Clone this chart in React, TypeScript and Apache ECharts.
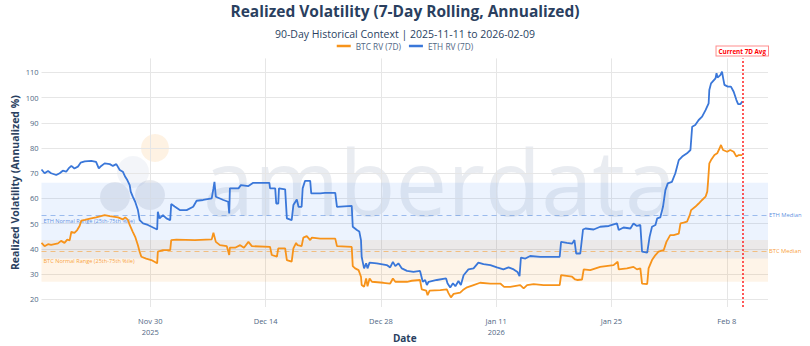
import React, { useEffect, useRef } from 'react';
import * as echarts from 'echarts';

// ---- data ----
const btcSeries: [string, number][] = [
  ['2025-11-16 19:00', 42.4], ['2025-11-17 04:00', 41.1], ['2025-11-17 14:00', 41.9], ['2025-11-17 23:00', 41.6],
  ['2025-11-18 09:00', 41.9], ['2025-11-18 19:00', 42.2], ['2025-11-19 04:00', 43.2], ['2025-11-19 14:00', 42.4],
  ['2025-11-19 22:00', 43.7], ['2025-11-20 05:00', 43.4], ['2025-11-20 10:00', 46.8], ['2025-11-20 19:00', 46.4],
  ['2025-11-21 03:00', 47.5], ['2025-11-21 10:00', 49.1], ['2025-11-21 15:00', 51.2], ['2025-11-22 01:00', 51.5],
  ['2025-11-22 20:00', 52.1], ['2025-11-23 10:00', 52.5], ['2025-11-24 11:00', 53.4], ['2025-11-25 02:00', 53],
  ['2025-11-26 02:00', 52.5], ['2025-11-26 16:00', 51.7], ['2025-11-26 23:00', 52.5], ['2025-11-27 07:00', 51.5],
  ['2025-11-27 12:00', 49.5], ['2025-11-27 21:00', 46.8], ['2025-11-28 04:00', 44.8], ['2025-11-28 12:00', 41.5],
  ['2025-11-28 17:00', 38.9], ['2025-11-28 22:00', 36.9], ['2025-11-29 12:00', 36.2], ['2025-11-30 03:00', 35.6],
  ['2025-11-30 20:00', 34.3], ['2025-11-30 22:00', 38.9], ['2025-12-01 13:00', 39.5], ['2025-12-02 10:00', 39.5],
  ['2025-12-02 13:00', 43.5], ['2025-12-03 04:00', 43.7], ['2025-12-05 10:00', 43.5], ['2025-12-07 11:00', 43.8],
  ['2025-12-07 16:00', 46.4], ['2025-12-07 23:00', 42.8], ['2025-12-08 11:00', 41.5], ['2025-12-09 07:00', 41.1],
  ['2025-12-09 14:00', 37.6], ['2025-12-09 16:00', 40.5], ['2025-12-10 07:00', 40.5], ['2025-12-10 22:00', 41.5],
  ['2025-12-11 09:00', 40.5], ['2025-12-11 22:00', 42.8], ['2025-12-12 08:00', 41.1], ['2025-12-14 13:00', 40.8],
  ['2025-12-14 18:00', 37.6], ['2025-12-15 09:00', 37], ['2025-12-15 13:00', 40.2], ['2025-12-16 09:00', 40.2],
  ['2025-12-16 14:00', 35.6], ['2025-12-17 04:00', 35], ['2025-12-17 09:00', 40.2], ['2025-12-17 17:00', 42.4],
  ['2025-12-17 21:00', 41.5], ['2025-12-18 09:00', 41.1], ['2025-12-18 14:00', 44.5], ['2025-12-19 00:00', 45.1],
  ['2025-12-19 10:00', 43.5], ['2025-12-19 15:00', 44.5], ['2025-12-20 15:00', 44.1], ['2025-12-22 11:00', 44.1],
  ['2025-12-22 16:00', 41.1], ['2025-12-24 11:00', 40.8], ['2025-12-24 14:00', 33.2], ['2025-12-24 21:00', 32.3],
  ['2025-12-25 07:00', 31.6], ['2025-12-25 14:00', 29], ['2025-12-25 16:00', 25.7], ['2025-12-25 23:00', 25],
  ['2025-12-26 05:00', 28.3], ['2025-12-26 09:00', 25.2], ['2025-12-26 15:00', 28.3], ['2025-12-26 22:00', 27],
  ['2025-12-28 07:00', 26.6], ['2025-12-29 03:00', 26.3], ['2025-12-29 11:00', 28.3], ['2025-12-29 18:00', 27],
  ['2025-12-31 04:00', 27], ['2025-12-31 18:00', 27.4], ['2026-01-01 18:00', 27.7], ['2026-01-01 23:00', 24],
  ['2026-01-02 12:00', 23.5], ['2026-01-02 16:00', 21.7], ['2026-01-02 22:00', 23.5], ['2026-01-04 05:00', 23.7],
  ['2026-01-05 00:00', 24], ['2026-01-05 05:00', 22.5], ['2026-01-05 12:00', 20.8], ['2026-01-05 20:00', 22.2],
  ['2026-01-06 15:00', 22.7], ['2026-01-06 23:00', 23.7], ['2026-01-07 11:00', 24.8], ['2026-01-08 06:00', 25.7],
  ['2026-01-09 01:00', 26.6], ['2026-01-10 07:00', 26.3], ['2026-01-11 12:00', 26.3], ['2026-01-11 23:00', 25],
  ['2026-01-12 17:00', 25], ['2026-01-13 22:00', 25.7], ['2026-01-14 08:00', 24.4], ['2026-01-14 18:00', 25.7],
  ['2026-01-15 13:00', 26.1], ['2026-01-16 18:00', 25.7], ['2026-01-18 17:00', 25.7], ['2026-01-18 21:00', 29.6],
  ['2026-01-20 05:00', 29], ['2026-01-20 14:00', 27.9], ['2026-01-20 21:00', 27.7], ['2026-01-21 10:00', 27.9],
  ['2026-01-21 15:00', 31.9], ['2026-01-22 10:00', 31.6], ['2026-01-23 15:00', 32.9], ['2026-01-25 06:00', 33.6],
  ['2026-01-25 18:00', 34.9], ['2026-01-25 21:00', 31.9], ['2026-01-26 21:00', 32.3], ['2026-01-27 16:00', 32.9],
  ['2026-01-28 02:00', 31.9], ['2026-01-28 12:00', 32.3], ['2026-01-28 17:00', 26.3], ['2026-01-29 08:00', 26.1],
  ['2026-01-29 12:00', 32.3], ['2026-01-29 22:00', 35.6], ['2026-01-30 08:00', 37.6], ['2026-01-30 17:00', 38.9],
  ['2026-01-31 08:00', 39.5], ['2026-01-31 16:00', 42.8], ['2026-02-01 03:00', 45.5], ['2026-02-01 13:00', 45.5],
  ['2026-02-02 04:00', 46.1], ['2026-02-02 09:00', 50.1], ['2026-02-02 18:00', 50.4], ['2026-02-03 04:00', 50.8],
  ['2026-02-03 12:00', 53.4], ['2026-02-03 16:00', 55.4], ['2026-02-04 04:00', 56.7], ['2026-02-04 14:00', 58],
  ['2026-02-05 00:00', 59.4], ['2026-02-05 10:00', 60.7], ['2026-02-05 15:00', 62.7], ['2026-02-05 17:00', 66],
  ['2026-02-05 21:00', 73.9], ['2026-02-06 02:00', 75.2], ['2026-02-06 12:00', 77.2], ['2026-02-06 20:00', 77.9],
  ['2026-02-07 03:00', 79.9], ['2026-02-07 07:00', 81.2], ['2026-02-07 13:00', 79.2], ['2026-02-08 01:00', 78.5],
  ['2026-02-08 10:00', 79.2], ['2026-02-08 20:00', 78.5], ['2026-02-09 04:00', 76.6], ['2026-02-09 11:00', 77.2],
  ['2026-02-09 21:00', 77.2],
];

const ethSeries: [string, number][] = [
  ['2025-11-16 19:00', 71.5], ['2025-11-17 04:00', 70], ['2025-11-17 14:00', 70.9], ['2025-11-17 23:00', 70],
  ['2025-11-18 14:00', 69.3], ['2025-11-19 00:00', 70], ['2025-11-19 09:00', 71], ['2025-11-19 19:00', 70.6],
  ['2025-11-20 02:00', 71.9], ['2025-11-20 10:00', 72.9], ['2025-11-20 19:00', 71.9], ['2025-11-21 05:00', 72.6],
  ['2025-11-21 13:00', 74.2], ['2025-11-22 01:00', 74.7], ['2025-11-22 20:00', 74.9], ['2025-11-23 10:00', 74.5],
  ['2025-11-23 18:00', 71.9], ['2025-11-24 01:00', 72.9], ['2025-11-24 11:00', 73.9], ['2025-11-25 02:00', 73.6],
  ['2025-11-25 11:00', 72.9], ['2025-11-25 21:00', 73.6], ['2025-11-26 07:00', 71.3], ['2025-11-26 16:00', 70.6],
  ['2025-11-26 23:00', 68.6], ['2025-11-27 05:00', 67.3], ['2025-11-27 12:00', 65.3], ['2025-11-27 15:00', 62.7],
  ['2025-11-27 21:00', 60.7], ['2025-11-28 04:00', 58.7], ['2025-11-28 12:00', 55.4], ['2025-11-28 17:00', 51.4],
  ['2025-11-29 03:00', 50.1], ['2025-11-29 17:00', 49.5], ['2025-11-30 08:00', 48.5], ['2025-11-30 20:00', 47.7],
  ['2025-11-30 22:00', 54.7], ['2025-12-01 03:00', 52.1], ['2025-12-01 13:00', 53.4], ['2025-12-01 23:00', 52.1],
  ['2025-12-02 10:00', 51.4], ['2025-12-02 13:00', 57.8], ['2025-12-02 23:00', 56.8], ['2025-12-03 14:00', 55.4],
  ['2025-12-04 10:00', 55.4], ['2025-12-05 05:00', 56.7], ['2025-12-05 15:00', 59.1], ['2025-12-06 10:00', 59.4],
  ['2025-12-07 11:00', 60], ['2025-12-07 16:00', 64], ['2025-12-07 19:00', 66.6], ['2025-12-07 23:00', 60.7],
  ['2025-12-08 11:00', 60], ['2025-12-08 21:00', 59.4], ['2025-12-09 11:00', 58.7], ['2025-12-09 14:00', 54.1],
  ['2025-12-09 16:00', 64], ['2025-12-10 17:00', 64], ['2025-12-11 00:00', 65.3], ['2025-12-11 22:00', 64.9],
  ['2025-12-12 12:00', 66.2], ['2025-12-14 11:00', 66.2], ['2025-12-14 13:00', 64], ['2025-12-15 04:00', 64],
  ['2025-12-15 07:00', 58], ['2025-12-15 13:00', 58], ['2025-12-15 15:00', 64], ['2025-12-16 09:00', 63.6],
  ['2025-12-16 14:00', 52.1], ['2025-12-17 04:00', 51.4], ['2025-12-17 09:00', 57.4], ['2025-12-17 19:00', 59.6],
  ['2025-12-18 00:00', 56.7], ['2025-12-18 09:00', 56.7], ['2025-12-18 12:00', 64], ['2025-12-18 19:00', 67],
  ['2025-12-19 10:00', 67], ['2025-12-19 13:00', 62], ['2025-12-20 15:00', 62], ['2025-12-21 05:00', 62.2],
  ['2025-12-22 11:00', 62.2], ['2025-12-22 16:00', 56.7], ['2025-12-24 11:00', 57.1], ['2025-12-24 14:00', 48.8],
  ['2025-12-25 02:00', 47.5], ['2025-12-25 09:00', 46.9], ['2025-12-25 14:00', 43.5], ['2025-12-25 16:00', 36.9],
  ['2025-12-25 19:00', 34.9], ['2025-12-25 23:00', 32.3], ['2025-12-26 05:00', 34.3], ['2025-12-26 09:00', 32.3],
  ['2025-12-26 15:00', 34.6], ['2025-12-27 12:00', 34.3], ['2025-12-28 17:00', 33.6], ['2025-12-29 03:00', 32.7],
  ['2025-12-29 11:00', 34.9], ['2025-12-29 18:00', 33.2], ['2025-12-30 03:00', 34.3], ['2025-12-30 13:00', 32.3],
  ['2025-12-31 04:00', 31.3], ['2025-12-31 23:00', 30.9], ['2026-01-01 18:00', 31.3], ['2026-01-02 02:00', 27],
  ['2026-01-02 09:00', 27.7], ['2026-01-02 14:00', 25.7], ['2026-01-02 19:00', 27], ['2026-01-03 19:00', 27.7],
  ['2026-01-04 22:00', 28.3], ['2026-01-05 02:00', 26.4], ['2026-01-05 10:00', 24.7], ['2026-01-05 18:00', 26.4],
  ['2026-01-06 01:00', 25.2], ['2026-01-06 10:00', 27.3], ['2026-01-06 17:00', 25.7], ['2026-01-07 01:00', 29.6],
  ['2026-01-07 15:00', 31.9], ['2026-01-08 06:00', 32.3], ['2026-01-08 20:00', 34.6], ['2026-01-09 11:00', 34],
  ['2026-01-10 07:00', 33.6], ['2026-01-11 02:00', 32.7], ['2026-01-11 21:00', 31.9], ['2026-01-12 12:00', 32.7],
  ['2026-01-13 03:00', 31.9], ['2026-01-13 14:00', 30.9], ['2026-01-13 20:00', 29.2], ['2026-01-14 00:00', 36.6],
  ['2026-01-14 13:00', 36.2], ['2026-01-15 03:00', 37.2], ['2026-01-16 08:00', 36.9], ['2026-01-18 17:00', 36.9],
  ['2026-01-18 21:00', 42.8], ['2026-01-19 14:00', 42.4], ['2026-01-20 05:00', 42.1], ['2026-01-20 12:00', 43.5],
  ['2026-01-20 17:00', 38.2], ['2026-01-21 05:00', 38.2], ['2026-01-21 13:00', 47.7], ['2026-01-21 20:00', 48.1],
  ['2026-01-22 20:00', 47.7], ['2026-01-23 15:00', 48.8], ['2026-01-24 16:00', 49.1], ['2026-01-25 16:00', 50.1],
  ['2026-01-25 21:00', 47.5], ['2026-01-26 11:00', 48.5], ['2026-01-27 07:00', 48.1], ['2026-01-27 16:00', 50.1],
  ['2026-01-28 02:00', 49.1], ['2026-01-28 12:00', 49.5], ['2026-01-28 17:00', 38.9], ['2026-01-29 08:00', 38.5],
  ['2026-01-29 15:00', 44.8], ['2026-01-29 22:00', 48.8], ['2026-01-30 08:00', 49.5], ['2026-01-30 13:00', 52.1],
  ['2026-01-30 22:00', 52.5], ['2026-01-31 06:00', 56.7], ['2026-01-31 13:00', 63.3], ['2026-01-31 20:00', 66],
  ['2026-02-01 08:00', 66.6], ['2026-02-01 18:00', 70], ['2026-02-02 04:00', 75.2], ['2026-02-02 14:00', 76.6],
  ['2026-02-03 04:00', 77.9], ['2026-02-03 14:00', 79.2], ['2026-02-03 19:00', 88.4], ['2026-02-04 04:00', 89.1],
  ['2026-02-04 14:00', 91.1], ['2026-02-05 00:00', 92.4], ['2026-02-05 10:00', 95], ['2026-02-05 19:00', 97.7],
  ['2026-02-05 21:00', 103], ['2026-02-06 02:00', 105.6], ['2026-02-06 15:00', 107.6], ['2026-02-06 18:00', 109.6],
  ['2026-02-06 21:00', 107.9], ['2026-02-07 05:00', 108.9], ['2026-02-07 10:00', 110.2], ['2026-02-07 13:00', 107.9],
  ['2026-02-07 17:00', 105], ['2026-02-08 03:00', 104.3], ['2026-02-08 12:00', 104.3], ['2026-02-08 20:00', 102.3],
  ['2026-02-09 04:00', 99], ['2026-02-09 09:00', 97.4], ['2026-02-09 16:00', 97.4], ['2026-02-09 21:00', 98.4],
];

const xTickDates = ['2025-11-30 00:00', '2025-12-14 00:00', '2025-12-28 00:00', '2026-01-11 00:00', '2026-01-25 00:00', '2026-02-08 00:00'];
const yTicks = [20, 30, 40, 50, 60, 70, 80, 90, 100, 110];
const xRange = ['2025-11-16 19:00', '2026-02-13 00:00'];
const yRange = [17, 115.5];
const ethBand = [36.2, 66.2];
const btcBand = [27, 43.5];
const ethMedian = 53.5;
const btcMedian = 39.05;
const currentDate = '2026-02-09 21:00';

const TITLE = 'Realized Volatility (7-Day Rolling, Annualized)';
const SUBTITLE = '90-Day Historical Context | 2025-11-11 to 2026-02-09';
const MONTHS = ['Jan', 'Feb', 'Mar', 'Apr', 'May', 'Jun', 'Jul', 'Aug', 'Sep', 'Oct', 'Nov', 'Dec'];

const BTC_COLOR = '#f7931a';
const ETH_COLOR = '#3a77d9';
const GRID_COLOR = '#e6e6e6';
const FONT = '"Open Sans", sans-serif';

const toTs = (s: string) => {
  const [d, t = '00:00'] = s.split(' ');
  const [y, m, dd] = d.split('-').map(Number);
  const [h, mi] = t.split(':').map(Number);
  return new Date(y, m - 1, dd, h, mi).getTime();
};

export default function App() {
  const ref = useRef<HTMLDivElement>(null);
  useEffect(() => {
    if (!ref.current) return;
    const chart = echarts.init(ref.current, undefined, { renderer: 'svg' });
    const xTicks = xTickDates.map(toTs);
    const xMin = toTs(xRange[0]);
    const xMax = toTs(xRange[1]);

    const xFormatter = (val: number) => {
      const idx = xTicks.findIndex((t) => Math.abs(t - val) < 60000);
      const d = new Date(val);
      let s = `${MONTHS[d.getMonth()]} ${d.getDate()}`;
      const prevYear = idx > 0 ? new Date(xTicks[idx - 1]).getFullYear() : null;
      if (idx === 0 || (prevYear !== null && prevYear !== d.getFullYear())) s += '\n' + d.getFullYear();
      return s;
    };

    const option: any = {
      animation: false,
      backgroundColor: '#ffffff',
      textStyle: { fontFamily: FONT },
      title: [
        { text: TITLE, left: 'center', top: -2, textStyle: { fontFamily: FONT, fontSize: 15.5, fontWeight: 'bold', color: '#2a3f5f' } },
        { text: SUBTITLE, left: 'center', top: 23, textStyle: { fontFamily: FONT, fontSize: 10.5, fontWeight: 'normal', color: '#2a3f5f' } },
      ],
      legend: {
        data: ['BTC RV (7D)', 'ETH RV (7D)'],
        top: 37,
        left: 'center',
        icon: 'rect',
        itemWidth: 14,
        itemHeight: 2.5,
        itemGap: 8,
        textStyle: { fontFamily: FONT, fontSize: 8.3, color: '#506784' },
      },
      grid: { left: 41.5, right: 42, top: 58.4, bottom: 39, containLabel: false, outerBoundsMode: 'none' },
      xAxis: {
        type: 'value',
        min: xMin,
        max: xMax,
        scale: true,
        name: 'Date',
        nameLocation: 'middle',
        nameGap: 26,
        nameMoveOverlap: false,
        nameTextStyle: { fontFamily: FONT, fontSize: 10, fontWeight: 'bold', color: '#2a3f5f', verticalAlign: 'top' },
        axisLine: { show: false },
        axisTick: { show: false },
        splitLine: { show: false },
        axisLabel: {
          customValues: xTicks,
          formatter: xFormatter,
          fontFamily: FONT,
          fontSize: 7.5,
          color: '#506784',
          lineHeight: 11,
          margin: 8,
        },
      },
      yAxis: {
        type: 'value',
        min: yRange[0],
        max: yRange[1],
        name: 'Realized Volatility (Annualized %)',
        nameLocation: 'middle',
        nameGap: 21,
        nameMoveOverlap: false,
        nameTextStyle: { fontFamily: FONT, fontSize: 10.5, fontWeight: 'bold', color: '#2a3f5f' },
        axisLine: { show: false },
        axisTick: { show: false },
        splitLine: { show: false },
        axisLabel: { customValues: yTicks, fontFamily: FONT, fontSize: 7.5, color: '#506784', margin: 3 },
      },
      graphic: [
        { type: 'circle', silent: true, z: 0, shape: { cx: 155, cy: 148, r: 14 }, style: { fill: 'rgba(247,147,26,0.12)' } },
        { type: 'circle', silent: true, z: 0, shape: { cx: 133, cy: 172, r: 16 }, style: { fill: 'rgba(140,160,195,0.10)' } },
        { type: 'circle', silent: true, z: 0, shape: { cx: 115, cy: 197, r: 15 }, style: { fill: 'rgba(110,125,155,0.16)' } },
        { type: 'circle', silent: true, z: 0, shape: { cx: 150, cy: 195, r: 15 }, style: { fill: 'rgba(110,125,155,0.16)' } },
        {
          type: 'text', silent: true, z: 0, x: 203, y: 180,
          style: { text: 'amberdata', font: '92px "Open Sans", sans-serif', fill: 'rgba(175,185,205,0.28)', verticalAlign: 'middle', align: 'left' },
        },
      ],
      series: [
        {
          name: 'grid',
          type: 'line',
          data: [[xMin, yRange[0]]],
          symbol: 'none',
          lineStyle: { opacity: 0 },
          silent: true,
          z: 0,
          markLine: {
            silent: true,
            symbol: ['none', 'none'],
            z: 0,
            label: { show: false },
            lineStyle: { color: GRID_COLOR, width: 1, type: 'solid' },
            data: [...xTicks.map((t) => ({ xAxis: t })), ...yTicks.map((v) => ({ yAxis: v }))],
          },
        },
        {
          name: 'bands',
          type: 'line',
          data: [[xMin, yRange[0]]],
          symbol: 'none',
          lineStyle: { opacity: 0 },
          silent: true,
          z: 1,
          markArea: {
            silent: true,
            z: 1,
            data: [
              [
                {
                  yAxis: btcBand[0],
                  itemStyle: { color: 'rgba(247,147,26,0.1)' },
                  label: { show: true, position: 'insideLeft', distance: 2, formatter: 'BTC Normal Range (25th-75th %ile)', fontFamily: FONT, fontSize: 5.6, color: 'rgba(247,147,26,0.85)' },
                },
                { yAxis: btcBand[1] },
              ],
              [
                {
                  yAxis: ethBand[0],
                  itemStyle: { color: 'rgba(66,133,244,0.1)' },
                  label: { show: true, position: 'insideLeft', distance: 2, formatter: 'ETH Normal Range (25th-75th %ile)', fontFamily: FONT, fontSize: 5.6, color: 'rgba(58,119,217,0.8)' },
                },
                { yAxis: ethBand[1] },
              ],
            ],
          },
          markLine: {
            silent: true,
            symbol: ['none', 'none'],
            z: 2,
            data: [
              {
                yAxis: ethMedian,
                lineStyle: { color: 'rgba(58,119,217,0.45)', type: [5, 4], width: 1.2 },
                label: { show: true, position: 'end', distance: 1, formatter: 'ETH Median', fontFamily: FONT, fontSize: 5.8, color: 'rgba(58,119,217,0.85)' },
              },
              {
                yAxis: btcMedian,
                lineStyle: { color: 'rgba(247,147,26,0.5)', type: [5, 4], width: 1.2 },
                label: { show: true, position: 'end', distance: 1, formatter: 'BTC Median', fontFamily: FONT, fontSize: 5.8, color: 'rgba(247,147,26,0.9)' },
              },
            ],
          },
        },
        {
          name: 'BTC RV (7D)',
          type: 'line',
          data: btcSeries.map(([t, v]) => [toTs(t), v]),
          showSymbol: false,
          symbol: 'none',
          color: BTC_COLOR,
          lineStyle: { color: BTC_COLOR, width: 1.8 },
          z: 3,
        },
        {
          name: 'ETH RV (7D)',
          type: 'line',
          data: ethSeries.map(([t, v]) => [toTs(t), v]),
          showSymbol: false,
          symbol: 'none',
          color: ETH_COLOR,
          lineStyle: { color: ETH_COLOR, width: 1.8 },
          z: 4,
          markLine: {
            silent: true,
            symbol: ['none', 'none'],
            z: 6,
            data: [
              {
                xAxis: toTs(currentDate),
                lineStyle: { color: '#ff2020', type: [2, 2], width: 1.5 },
                label: {
                  show: true,
                  position: 'end',
                  distance: 3,
                  formatter: 'Current 7D Avg',
                  fontFamily: FONT,
                  fontSize: 6.3,
                  fontWeight: 'bold',
                  color: '#ff0000',
                  backgroundColor: '#ffffff',
                  borderColor: 'rgba(255,0,0,0.45)',
                  borderWidth: 1,
                  padding: [2, 2, 1, 2],
                },
              },
            ],
          },
        },
      ],
    };
    chart.setOption(option);
    return () => chart.dispose();
  }, []);

  return <div ref={ref} style={{ position: 'fixed', left: 0, top: 0, width: 810, height: 346 }} />;
}
